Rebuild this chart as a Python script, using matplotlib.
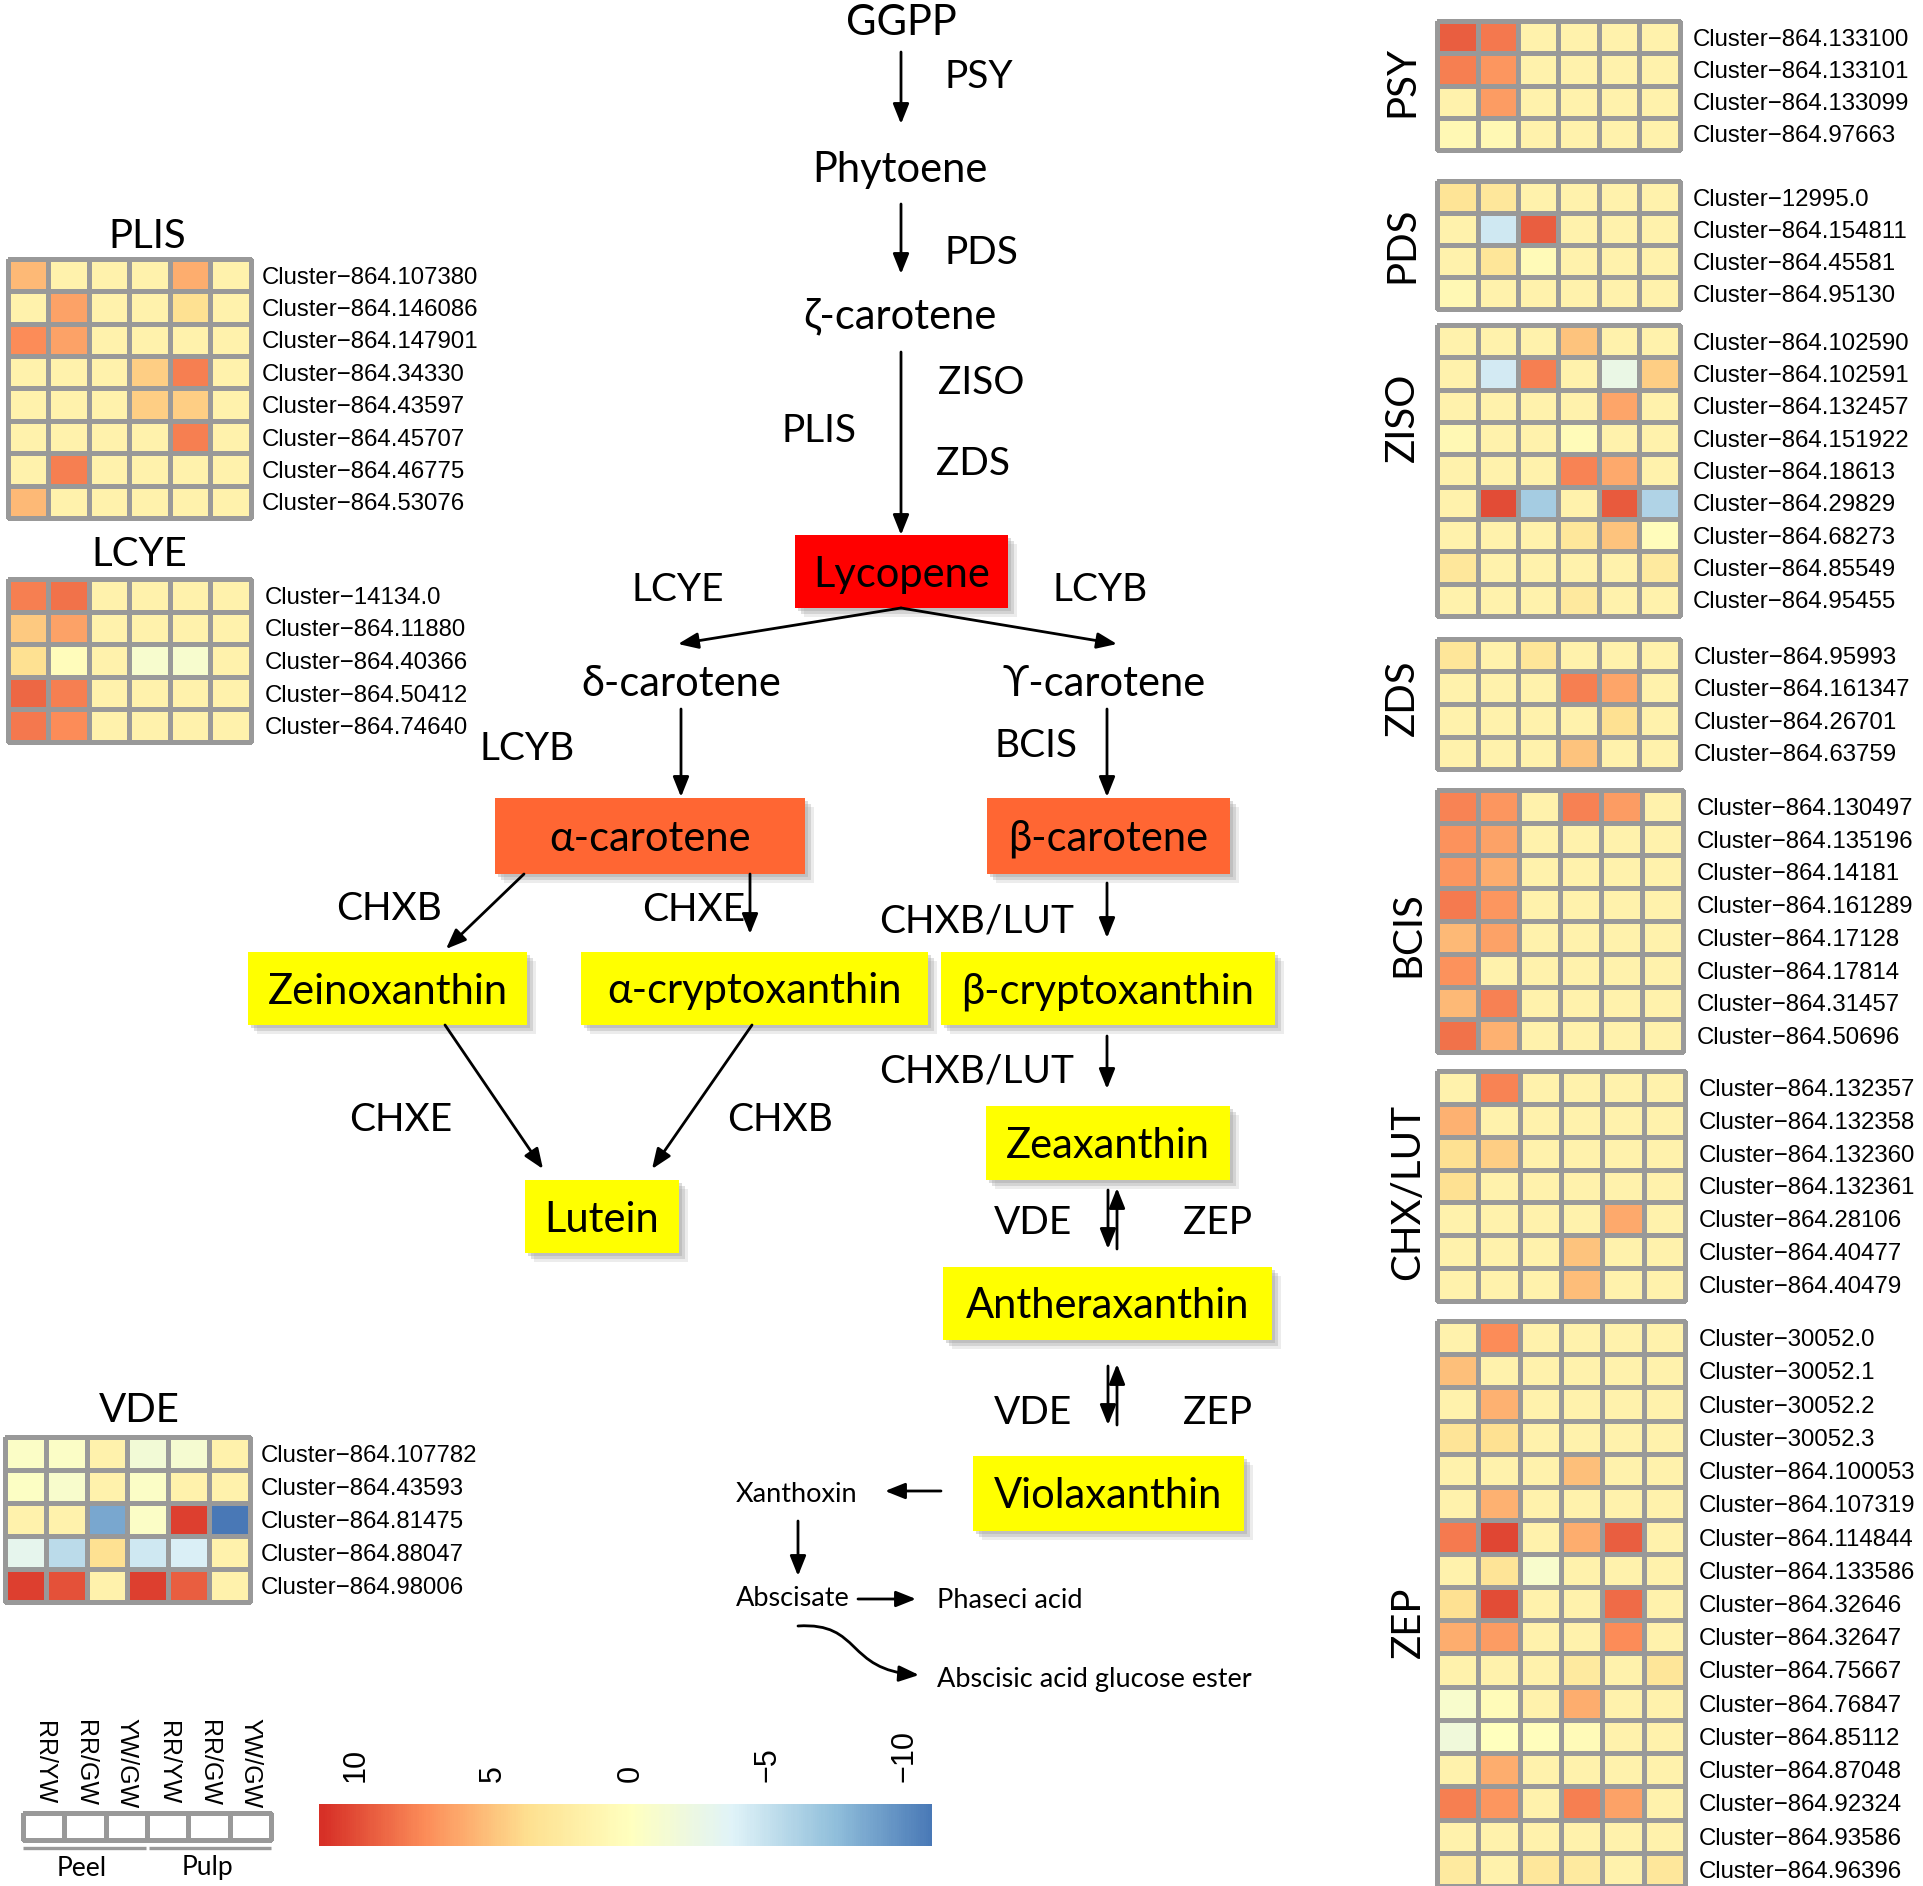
import numpy as np
import matplotlib.pyplot as plt
from matplotlib.colors import LinearSegmentedColormap, ListedColormap
from matplotlib.patches import Rectangle, FancyArrowPatch
from matplotlib.path import Path

# ---------------- data ----------------
samples = ["RR/YW", "RR/GW", "YW/GW", "RR/YW", "RR/GW", "YW/GW"]
groups = ["Peel", "Pulp"]
cbar_ticks = [10, 5, 0, -5, -10]
cbar_labels = ["10", "5", "0", "\u22125", "\u221210"]

plis_names = ["Cluster\u2212864.107380", "Cluster\u2212864.146086", "Cluster\u2212864.147901",
              "Cluster\u2212864.34330", "Cluster\u2212864.43597", "Cluster\u2212864.45707",
              "Cluster\u2212864.46775", "Cluster\u2212864.53076"]
plis_vals = [[5.5, 1.5, 1.5, 1.5, 6.0, 1.5],
             [1.5, 6.5, 1.5, 1.5, 3.5, 1.5],
             [7.5, 6.5, 1.5, 1.5, 1.5, 1.5],
             [1.5, 1.5, 1.5, 4.5, 8.0, 1.5],
             [1.5, 1.5, 1.5, 4.5, 4.5, 1.5],
             [1.5, 1.5, 1.5, 1.5, 8.0, 1.5],
             [1.5, 8.0, 1.5, 1.5, 1.5, 1.5],
             [5.5, 1.5, 1.5, 1.5, 1.5, 1.5]]

lcye_names = ["Cluster\u221214134.0", "Cluster\u2212864.11880", "Cluster\u2212864.40366",
              "Cluster\u2212864.50412", "Cluster\u2212864.74640"]
lcye_vals = [[8.0, 8.5, 1.5, 1.5, 1.5, 1.5],
             [4.8, 6.5, 1.5, 1.5, 1.5, 1.5],
             [3.5, 0.3, 1.5, -1.0, -1.0, 1.5],
             [9.0, 8.0, 1.5, 1.5, 1.5, 1.5],
             [8.3, 7.5, 1.5, 1.5, 1.5, 1.5]]

vde_names = ["Cluster\u2212864.107782", "Cluster\u2212864.43593", "Cluster\u2212864.81475",
             "Cluster\u2212864.88047", "Cluster\u2212864.98006"]
vde_vals = [[-0.5, -0.5, 1.5, -1.5, -1.2, 1.5],
            [-0.3, -0.8, 1.5, -0.5, 1.5, 1.5],
            [1.5, 1.5, -8.6, -0.5, 10.5, -11.0],
            [-3.0, -5.5, 3.5, -4.5, -4.0, 1.5],
            [10.5, 9.8, 1.5, 10.5, 9.3, 1.5]]

psy_names = ["Cluster\u2212864.133100", "Cluster\u2212864.133101", "Cluster\u2212864.133099",
             "Cluster\u2212864.97663"]
psy_vals = [[9.3, 8.3, 1.5, 1.5, 1.5, 1.5],
            [8.0, 7.0, 1.5, 1.5, 1.5, 1.5],
            [1.5, 6.8, 1.5, 1.5, 1.5, 1.5],
            [0.8, 0.8, 1.5, 1.5, 1.5, 1.5]]

pds_names = ["Cluster\u221212995.0", "Cluster\u2212864.154811", "Cluster\u2212864.45581",
             "Cluster\u2212864.95130"]
pds_vals = [[3.3, 2.8, 1.5, 1.5, 1.5, 1.5],
            [1.5, -4.5, 9.3, 1.5, 1.5, 1.5],
            [1.5, 3.0, 0.6, 1.5, 1.5, 1.5],
            [0.8, 1.5, 1.5, 1.5, 1.5, 1.5]]

ziso_names = ["Cluster\u2212864.102590", "Cluster\u2212864.102591", "Cluster\u2212864.132457",
              "Cluster\u2212864.151922", "Cluster\u2212864.18613", "Cluster\u2212864.29829",
              "Cluster\u2212864.68273", "Cluster\u2212864.85549", "Cluster\u2212864.95455"]
ziso_vals = [[1.5, 1.5, 1.5, 5.0, 1.5, 1.5],
             [1.5, -4.3, 8.0, 1.5, -2.5, 4.5],
             [1.5, 1.5, 1.5, 1.5, 6.3, 1.5],
             [0.8, 1.5, 1.5, 0.5, 1.5, 1.5],
             [1.5, 1.5, 1.5, 7.8, 6.2, 1.5],
             [1.5, 10.0, -6.5, 1.5, 9.5, -6.0],
             [1.5, 1.5, 1.5, 2.8, 5.0, 0.3],
             [2.8, 1.5, 1.5, 1.5, 1.5, 2.5],
             [1.5, 1.5, 1.5, 2.6, 1.5, 1.5]]

zds_names = ["Cluster\u2212864.95993", "Cluster\u2212864.161347", "Cluster\u2212864.26701",
             "Cluster\u2212864.63759"]
zds_vals = [[3.0, 1.5, 3.0, 1.5, 1.5, 1.5],
            [1.5, 1.5, 1.5, 8.0, 6.3, 1.5],
            [1.5, 1.5, 1.5, 1.5, 3.5, 1.5],
            [1.5, 1.5, 1.5, 5.0, 1.5, 1.5]]

bcis_names = ["Cluster\u2212864.130497", "Cluster\u2212864.135196", "Cluster\u2212864.14181",
              "Cluster\u2212864.161289", "Cluster\u2212864.17128", "Cluster\u2212864.17814",
              "Cluster\u2212864.31457", "Cluster\u2212864.50696"]
bcis_vals = [[7.8, 7.0, 1.5, 7.9, 6.8, 1.5],
             [7.2, 6.5, 1.5, 1.5, 1.5, 1.5],
             [7.0, 6.0, 1.5, 1.5, 1.5, 1.5],
             [8.2, 7.0, 1.5, 1.5, 1.5, 1.5],
             [5.5, 6.5, 1.5, 1.5, 1.5, 1.5],
             [7.2, 1.5, 1.5, 1.5, 1.5, 1.5],
             [5.5, 7.9, 1.5, 1.5, 1.5, 1.5],
             [8.5, 5.8, 1.5, 1.5, 1.5, 1.5]]

chx_names = ["Cluster\u2212864.132357", "Cluster\u2212864.132358", "Cluster\u2212864.132360",
             "Cluster\u2212864.132361", "Cluster\u2212864.28106", "Cluster\u2212864.40477",
             "Cluster\u2212864.40479"]
chx_vals = [[1.5, 7.8, 1.5, 1.5, 1.5, 1.5],
            [5.8, 1.5, 1.5, 1.5, 1.5, 1.5],
            [3.5, 4.5, 1.5, 1.5, 1.5, 1.5],
            [3.5, 1.5, 1.5, 1.5, 1.5, 1.5],
            [1.5, 1.5, 1.5, 1.5, 6.2, 1.5],
            [1.5, 1.5, 1.5, 5.0, 1.5, 1.5],
            [1.5, 1.5, 1.5, 5.3, 1.5, 1.5]]

zep_names = ["Cluster\u221230052.0", "Cluster\u221230052.1", "Cluster\u221230052.2",
             "Cluster\u221230052.3", "Cluster\u2212864.100053", "Cluster\u2212864.107319",
             "Cluster\u2212864.114844", "Cluster\u2212864.133586", "Cluster\u2212864.32646",
             "Cluster\u2212864.32647", "Cluster\u2212864.75667", "Cluster\u2212864.76847",
             "Cluster\u2212864.85112", "Cluster\u2212864.87048", "Cluster\u2212864.92324",
             "Cluster\u2212864.93586", "Cluster\u2212864.96396"]
zep_vals = [[1.5, 7.5, 1.5, 1.5, 1.5, 1.5],
            [5.2, 1.5, 1.5, 1.5, 1.5, 1.5],
            [1.5, 5.8, 1.5, 1.5, 1.5, 1.5],
            [3.2, 3.5, 1.5, 1.5, 1.5, 1.5],
            [1.5, 1.5, 1.5, 5.2, 1.5, 1.5],
            [1.5, 5.8, 1.5, 1.5, 1.5, 1.5],
            [8.2, 10.3, 1.5, 6.0, 9.3, 1.5],
            [1.5, 3.2, -0.8, 1.5, 1.5, 1.5],
            [3.5, 10.0, 1.5, 1.5, 8.8, 1.5],
            [6.0, 6.8, 1.5, 1.5, 7.5, 1.5],
            [1.5, 1.5, 1.5, 2.5, 1.5, 3.0],
            [-0.8, 0.5, 1.5, 6.0, 1.5, 1.5],
            [-1.8, 0.0, 0.2, 0.6, 1.5, 1.5],
            [1.5, 6.0, 1.5, 1.5, 1.5, 1.5],
            [8.0, 7.0, 1.5, 8.0, 6.5, 1.5],
            [1.5, 1.5, 1.5, 1.5, 1.5, 1.5],
            [2.5, 1.5, 2.8, 2.5, 1.5, 2.8]]

# ---------------- figure ----------------
W, H = 1923, 1886
fig = plt.figure(figsize=(W / 100, H / 100), dpi=100)
ax = fig.add_axes([0, 0, 1, 1])
ax.set_xlim(0, W)
ax.set_ylim(H, 0)
ax.axis('off')

cmap = LinearSegmentedColormap.from_list(
    'rdylbu', ['#4575B4', '#91BFDB', '#E0F3F8', '#FFFFBF', '#FEE090', '#FC8D59', '#D73027'])
VMAX = 11.2
BORDER = '#999999'
PF = ['Lato', 'DejaVu Sans']          # pathway font
LF = ['Liberation Sans', 'DejaVu Sans']  # label font
DY = 3  # small downward nudge for centred texts


def heatmap(vals, names, x0, y0, x1, y1, pad=8):
    a = fig.add_axes([x0 / W, 1 - y1 / H, (x1 - x0) / W, (y1 - y0) / H])
    m = a.pcolormesh(np.array(vals), cmap=cmap, vmin=-VMAX, vmax=VMAX,
                     edgecolors=BORDER, linewidth=2.2)
    m.set_clip_on(False)
    a.set_xlim(0, 6)
    a.set_ylim(len(vals), 0)
    a.set_xticks([])
    a.set_yticks(np.arange(len(names)) + 0.5, names)
    a.yaxis.tick_right()
    a.tick_params(axis='y', length=0, pad=pad, labelsize=17.3)
    for lab in a.get_yticklabels():
        lab.set_family(LF)
    for s in a.spines.values():
        s.set_visible(False)
    return a


heatmap(plis_vals, plis_names, 8, 259, 251, 518)
heatmap(lcye_vals, lcye_names, 8, 579, 251, 742, pad=10)
heatmap(vde_vals, vde_names, 5, 1437, 250, 1602, pad=8)
heatmap(psy_vals, psy_names, 1437, 21, 1680, 150, pad=9)
heatmap(pds_vals, pds_names, 1437, 181, 1680, 309, pad=9)
heatmap(ziso_vals, ziso_names, 1437, 325, 1680, 616, pad=9)
heatmap(zds_vals, zds_names, 1437, 639, 1680, 769, pad=10)
heatmap(bcis_vals, bcis_names, 1437, 790, 1683, 1052, pad=10)
heatmap(chx_vals, chx_names, 1437, 1071, 1685, 1301, pad=10)
heatmap(zep_vals, zep_names, 1437, 1321, 1685, 1886, pad=10)

# heatmap titles
for s, x, y in [("PLIS", 147, 236), ("LCYE", 139, 555), ("VDE", 139, 1411)]:
    ax.text(x, y, s, ha='center', va='center', fontsize=29, family=PF)
for s, x, y in [("PSY", 1402, 81), ("PDS", 1402, 245), ("ZISO", 1402, 417),
                ("ZDS", 1402, 698), ("BCIS", 1408, 934), ("CHX/LUT", 1408, 1192),
                ("ZEP", 1408, 1622)]:
    ax.text(x, y, s, ha='center', va='center', rotation=90, fontsize=29, family=PF)

# ---------------- legend ----------------
lg = fig.add_axes([23 / W, 1 - 1840 / H, (271 - 23) / W, (1840 - 1813) / H])
m = lg.pcolormesh(np.zeros((1, len(samples))), cmap=ListedColormap(['white']),
                  edgecolors=BORDER, linewidth=2.2)
m.set_clip_on(False)
lg.set_xlim(0, len(samples))
lg.set_ylim(1, 0)
lg.axis('off')
for i, s in enumerate(samples):
    xc = 23 + (i + 0.5) * (271 - 23) / len(samples)
    ax.text(xc, 1763, s, rotation=270, ha='center', va='center', fontsize=18, family=LF)
ax.plot([23, 146], [1848, 1848], color=BORDER, lw=2.4, solid_capstyle='butt')
ax.plot([149, 271], [1848, 1848], color=BORDER, lw=2.4, solid_capstyle='butt')
ax.text(82, 1868, groups[0], ha='center', va='center', fontsize=19, family=PF)
ax.text(207, 1868, groups[1], ha='center', va='center', fontsize=19, family=PF)

cb_lo, cb_hi = -11.0, 11.35
cb = fig.add_axes([319 / W, 1 - 1846 / H, (932 - 319) / W, (1846 - 1804) / H])
edges = np.linspace(cb_lo, cb_hi, 300)
mids = (edges[:-1] + edges[1:]) / 2
cb.pcolormesh(edges, [0, 1], mids[None, :], cmap=cmap, vmin=-VMAX, vmax=VMAX, shading='flat')
cb.set_xlim(cb_hi, cb_lo)
cb.set_ylim(0, 1)
cb.xaxis.tick_top()
cb.set_xticks(cbar_ticks, cbar_labels, rotation=90, fontsize=22, family=LF)
cb.tick_params(axis='x', length=0, pad=16)
cb.set_yticks([])
for s in cb.spines.values():
    s.set_visible(False)

# ---------------- pathway ----------------
def label(x, y, s, size=30, ha='center'):
    ax.text(x, y + DY, s, ha=ha, va='center', fontsize=size, family=PF)


def box(x0, y0, x1, y1, color, s, size=30):
    for d, al in [(9, 0.18), (6, 0.3), (3, 0.35)]:
        ax.add_patch(Rectangle((x0 + d, y0 + d), x1 - x0, y1 - y0, facecolor='#9a9a9a',
                               edgecolor='none', alpha=al, zorder=1))
    ax.add_patch(Rectangle((x0, y0), x1 - x0, y1 - y0, facecolor=color,
                           edgecolor='none', zorder=2))
    ax.text((x0 + x1) / 2, (y0 + y1) / 2 + DY, s, ha='center', va='center',
            fontsize=size, family=PF, zorder=3)


def arrow(x0, y0, x1, y1):
    ax.annotate('', xy=(x1, y1), xytext=(x0, y0),
                arrowprops=dict(arrowstyle='-|>,head_length=0.55,head_width=0.22',
                                color='black', lw=2, shrinkA=0, shrinkB=0,
                                mutation_scale=22))


label(901, 20, "GGPP")
arrow(901, 52, 901, 124)
label(979, 74, "PSY", 28)
label(900, 167, "Phytoene")
arrow(901, 204, 901, 274)
label(981, 250, "PDS", 28)
label(900, 313, "\u03b6-carotene")
arrow(901, 352, 901, 535)
label(981, 380, "ZISO", 28)
label(819, 428, "PLIS", 28)
label(973, 461, "ZDS", 28)

box(795, 535, 1008, 608, '#FF0000', "Lycopene")
label(678, 587, "LCYE", 28)
label(1100, 587, "LCYB", 28)
arrow(901, 608, 678, 644)
arrow(901, 608, 1117, 644)
label(681, 681, "\u03b4-carotene")
label(1104, 681, "\u03d2-carotene")
label(527, 746, "LCYB", 28)
label(1036, 743, "BCIS", 28)
arrow(681, 709, 681, 797)
arrow(1107, 709, 1107, 797)

box(495, 798, 805, 874, '#FF6633', "\u03b1-carotene")
box(987, 798, 1230, 874, '#FF6633', "\u03b2-carotene")
label(389, 906, "CHXB", 28)
arrow(524, 874, 446, 949)
label(694, 907, "CHXE", 28)
arrow(750, 874, 750, 934)
label(977, 918, "CHXB/LUT", 28)
arrow(1107, 883, 1107, 938)

box(248, 952, 527, 1025, '#FFFF00', "Zeinoxanthin")
box(581, 952, 928, 1025, '#FFFF00', "\u03b1-cryptoxanthin")
box(941, 952, 1275, 1025, '#FFFF00', "\u03b2-cryptoxanthin")

label(977, 1069, "CHXB/LUT", 28)
arrow(1107, 1036, 1107, 1089)
label(401, 1117, "CHXE", 28)
arrow(445, 1025, 543, 1169)
arrow(752, 1025, 652, 1169)
label(780, 1117, "CHXB", 28)

box(525, 1180, 679, 1253, '#FFFF00', "Lutein")
box(986, 1106, 1230, 1180, '#FFFF00', "Zeaxanthin")
label(1033, 1220, "VDE", 28)
label(1217, 1220, "ZEP", 28)
arrow(1108, 1190, 1108, 1249)
arrow(1117, 1249, 1117, 1188)

box(943, 1267, 1272, 1340, '#FFFF00', "Antheraxanthin")
label(1033, 1410, "VDE", 28)
label(1217, 1410, "ZEP", 28)
arrow(1108, 1366, 1108, 1425)
arrow(1117, 1425, 1117, 1364)

box(973, 1456, 1244, 1531, '#FFFF00', "Violaxanthin")

label(797, 1492, "Xanthoxin", 19.5)
arrow(941, 1491, 885, 1491)
arrow(798, 1521, 798, 1576)
label(793, 1596, "Abscisate", 19.5)
arrow(858, 1599, 916, 1599)
label(937, 1597, "Phaseci acid", 19.5, ha='left')
label(937, 1676, "Abscisic acid glucose ester", 19.5, ha='left')
curve = Path([(798, 1626), (862, 1622), (845, 1670), (919, 1675)],
             [Path.MOVETO, Path.CURVE4, Path.CURVE4, Path.CURVE4])
ax.add_patch(FancyArrowPatch(path=curve, arrowstyle='-|>,head_length=0.55,head_width=0.22',
                             color='black', lw=2, mutation_scale=22))

fig.savefig("out.png", dpi=100)
